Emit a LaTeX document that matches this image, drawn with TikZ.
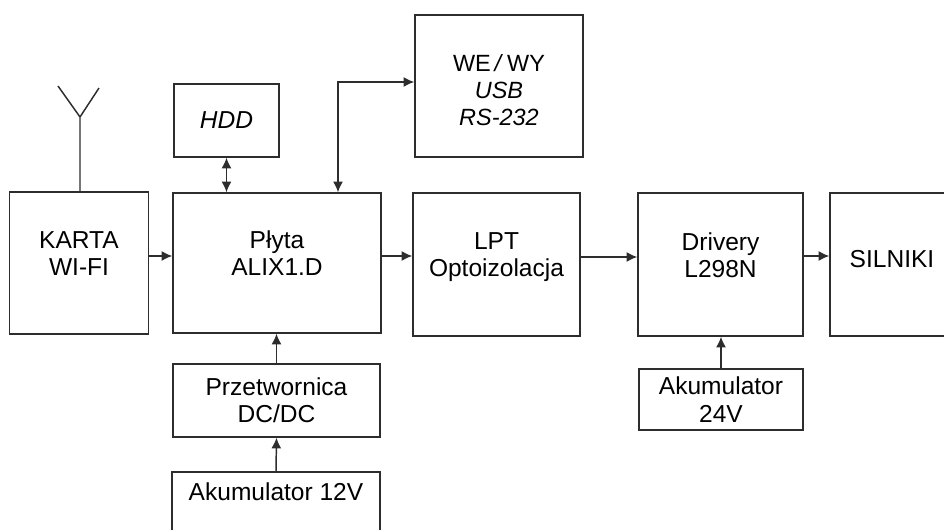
\documentclass[tikz,border=0pt]{standalone}
\usepackage{fontspec}
\setmainfont{Liberation Sans}
\usetikzlibrary{arrows.meta}
\definecolor{qline}{RGB}{45,45,45}
\tikzset{
  blok/.style={draw=qline,line width=1.1pt,align=center,inner sep=0pt,text=black,font=\fontsize{18.4}{20.5}\selectfont},
  antena/.style={draw=qline,line width=1.1pt},
  strz/.style={antena,-{Latex[length=8pt,width=7.5pt]}},
  dstrz/.style={antena,{Latex[length=8pt,width=7.5pt]}-{Latex[length=8pt,width=7.5pt]}},
}
\begin{document}
\begin{tikzpicture}[x=0.75pt,y=-0.75pt]%

\useasboundingbox (0,0) rectangle (944,530);

%blocks
\node[blok,minimum width=104.25pt,minimum height=106.5pt] (karta) at (79,263) {KARTA\\WI-FI\\[-6pt]};
\node[blok,minimum width=156pt,minimum height=105pt] (plyta) at (277,263) {Płyta\\ALIX1.D\\[-6pt]};
\node[blok,minimum width=78.75pt,minimum height=54.75pt] (hdd) at (226.5,120.5) {\itshape HDD};
\node[blok,minimum width=126pt,minimum height=106.5pt,font=\fontsize{17.6}{20.5}\selectfont] (wewy) at (499,86) {{}\\[-1.5pt]WE\,\textit{/}\,WY\\\itshape USB\\\itshape RS-232};
\node[blok,minimum width=125.25pt,minimum height=107.25pt] (lpt) at (496.5,264.5) {LPT\\Optoizolacja\\[-6pt]};
\node[blok,minimum width=123.75pt,minimum height=107.25pt] (driv) at (720.5,264.5) {Drivery\\L298N\\[-6pt]};
\node[blok,minimum width=93pt,minimum height=107.25pt] (siln) at (892,264.5) {SILNIKI\\[-11.5pt]};
\node[blok,minimum width=123pt,minimum height=45.75pt] (ak24) at (721,399.5) {Akumulator\\24V};
\node[blok,minimum width=155.25pt,minimum height=54.75pt] (przet) at (276.5,400.5) {Przetwornica\\DC/DC};
\node[blok,minimum width=156pt,minimum height=45pt] (ak12) at (276,502) {Akumulator 12V\\[-4.5pt]};

%antenna
\coordinate (ant) at (80,117);
\coordinate (antl) at (58,86);
\coordinate (antr) at (99,88);
\draw[antena] (karta.north -| ant) -- (ant) -- (antl);
\draw[antena] (ant) -- (antr);

%arrows
\coordinate (ya) at (0,256);
\coordinate (yb) at (0,257);
\coordinate (we) at (338,82);
\draw[strz] (karta.east |- ya) -- (plyta.west |- ya);
\draw[strz] (plyta.east |- ya) -- (lpt.west |- ya);
\draw[strz] (lpt.east |- yb) -- (driv.west |- yb);
\draw[strz] (driv.east |- ya) -- (siln.west |- ya);
\draw[dstrz] (hdd.south) -- (hdd.south |- plyta.north);
\draw[dstrz] (we -| wewy.west) -- (we) -- (we |- plyta.north);
\draw[strz] (przet.north) -- (przet.north |- plyta.south);
\draw[strz] (ak12.north) -- (przet.south);
\draw[strz] (ak24.north) -- (ak24.north |- driv.south);

\end{tikzpicture}
\end{document}
